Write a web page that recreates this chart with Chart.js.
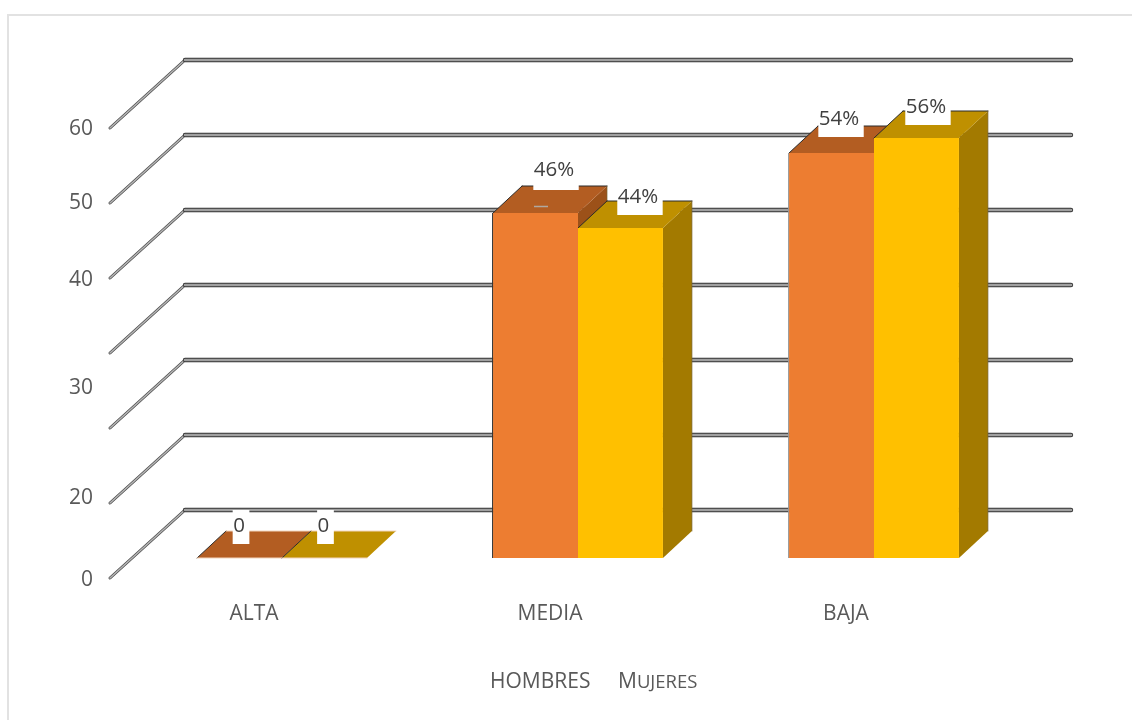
<!DOCTYPE html>
<html>
<head>
<meta charset="utf-8">
<script src="https://cdn.jsdelivr.net/npm/chart.js@4"></script>
<style>
  html, body { margin: 0; padding: 0; background: #fff; overflow: hidden; }
  #frame { position: absolute; left: 7px; top: 14px; right: 0; bottom: 0; border-left: 2px solid #e2e2e2; border-top: 2px solid #e2e2e2; }
  #chart { position: absolute; left: 0; top: 0; }
</style>
</head>
<body>
<div id="frame"></div>
<canvas id="chart" width="1132" height="720"></canvas>
<script>
const categories = ["ALTA", "MEDIA", "BAJA"];
const seriesNames = ["HOMBRES", "MUJERES"];
const hombres = [0, 46, 54];
const mujeres = [0, 44, 56];
const hombresLabels = ["0", "46%", "54%"];
const mujeresLabels = ["0", "44%", "56%"];
const gridValues = [0, 10, 20, 30, 40, 50, 60];
const yTickLabels = ["0", "20", "30", "40", "50", "60"];
// the source picture has these labels unevenly spaced, so they sit at these axis values
const yTickSpots = [-2.9, 8, 22.6, 37.1, 47.3, 57.2];

const TEXT = "#595959";
const FONT = '"Open Sans", sans-serif';
const DEPTH = { x: 29, y: -27 };
const WALL_FRONT = { x: -24, y: 20 };
const WALL_BACK = { x: 51, y: -48 };

// [dx from bar centre, dy from bar top, text lift] of each white label box, per dataset
const labelNudges = [
  [[1.5, -14, 18], [20.5, -23, 20], [9.5, -16, 18]],
  [[1, -14, 18], [19.5, -13, 18], [11.5, -13, 18]]
];
const faceColors = [
  { top: "#B35D22", side: "#9C5119" },
  { top: "#BF9000", side: "#A37A00" }
];

function poly(ctx, pts, fill) {
  ctx.beginPath();
  pts.forEach((p, i) => i ? ctx.lineTo(p[0], p[1]) : ctx.moveTo(p[0], p[1]));
  ctx.closePath();
  ctx.fillStyle = fill;
  ctx.fill();
}

function seg(ctx, x1, y1, x2, y2, color, width) {
  ctx.beginPath();
  ctx.moveTo(x1, y1);
  ctx.lineTo(x2, y2);
  ctx.strokeStyle = color;
  ctx.lineWidth = width;
  ctx.stroke();
}

const wallPlugin = {
  id: "wall",
  beforeDatasetsDraw(chart) {
    const { ctx, scales: { y }, chartArea: a } = chart;
    ctx.save();
    ctx.lineCap = "round";
    gridValues.forEach(v => {
      const py = y.getPixelForValue(v);
      const fx = a.left + WALL_FRONT.x, fy = py + WALL_FRONT.y;
      const bx = a.left + WALL_BACK.x, by = py + WALL_BACK.y;
      const ex = a.right + WALL_BACK.x - 2;
      seg(ctx, fx, fy, bx, by, "#4a4a4a", 3);
      seg(ctx, fx, fy, bx, by, "#b5b5b5", 1.6);
      seg(ctx, bx, by, ex, by, "#333", 4.4);
      seg(ctx, bx, by, ex, by, "#a0a0a0", 2.6);
    });
    // depth faces of the bars, read from the bar elements
    chart.data.datasets.forEach((ds, d) => {
      chart.getDatasetMeta(d).data.forEach(bar => {
        const half = bar.width / 2;
        const l = bar.x - half, r = bar.x + half, t = bar.y, b = bar.base;
        const c = faceColors[d];
        const flat = b - t <= 1;
        if (!flat) {
          poly(ctx, [[r, t], [r + DEPTH.x, t + DEPTH.y], [r + DEPTH.x, b + DEPTH.y], [r, b]], c.side);
          seg(ctx, r + DEPTH.x, t + DEPTH.y, r + DEPTH.x, b + DEPTH.y, "rgba(120,100,50,.7)", 1);
        }
        poly(ctx, [[l, t], [l + DEPTH.x, t + DEPTH.y], [r + DEPTH.x, t + DEPTH.y], [r, t]], c.top);
        seg(ctx, l, t, l + DEPTH.x, t + DEPTH.y, "#2b2b2b", 1);
        seg(ctx, l + DEPTH.x, t + DEPTH.y, r + DEPTH.x, t + DEPTH.y, flat ? "#F2D5BC" : "#2b2b2b", 1);
        if (flat) {
          seg(ctx, l, t, r, t, "#F2D5BC", 1);
        }
      });
    });
    ctx.restore();
  },
  afterDatasetsDraw(chart) {
    const { ctx } = chart;
    ctx.save();
    // left edge of the taller bars
    chart.getDatasetMeta(0).data.forEach((bar, i) => {
      if (bar.base - bar.y > 1) {
        const x = bar.x - bar.width / 2 - 0.5;
        seg(ctx, x, bar.y, x, bar.base, i === 1 ? "#333" : "#999", 1);
      }
    });
    // value labels sit on white boxes
    ctx.font = "20.5px " + FONT;
    ctx.textAlign = "center";
    ctx.textBaseline = "middle";
    [hombresLabels, mujeresLabels].forEach((labels, d) => {
      chart.getDatasetMeta(d).data.forEach((bar, i) => {
        const w = ctx.measureText(labels[i]).width + 5;
        const n = labelNudges[d][i];
        const cx = bar.x + n[0];
        const bottom = bar.y + n[1];
        ctx.fillStyle = "#fff";
        ctx.fillRect(cx - w / 2, bottom - 34, w, 34);
        ctx.fillStyle = "#404040";
        ctx.fillText(labels[i], cx - 2, bottom - n[2]);
      });
    });
    // small leader mark under the 46% label
    const med = chart.getDatasetMeta(0).data[1];
    seg(ctx, med.x - 1.5, med.y - 6.5, med.x + 12.5, med.y - 6.5, "#b0a8a0", 1.5);

    // legend has no keys and the second name is in small caps
    ctx.fillStyle = TEXT;
    ctx.textAlign = "left";
    ctx.textBaseline = "alphabetic";
    ctx.font = "21px " + FONT;
    ctx.fillText(seriesNames[0], 490, 688);
    const second = seriesNames[1];
    ctx.fillText(second[0], 618, 688);
    const capW = ctx.measureText(second[0]).width;
    ctx.font = "18.5px " + FONT;
    ctx.fillText(second.slice(1), 618 + capW, 688);
    ctx.restore();
  }
};

new Chart(document.getElementById("chart"), {
  type: "bar",
  plugins: [wallPlugin],
  data: {
    labels: categories,
    datasets: [
      { label: seriesNames[0], data: hombres, backgroundColor: "#ED7D31" },
      { label: seriesNames[1], data: mujeres, backgroundColor: "#FFC000" }
    ]
  },
  options: {
    responsive: false,
    animation: false,
    layout: { padding: { left: 0, right: 110, top: 58.5, bottom: 82 } },
    datasets: { bar: { categoryPercentage: 0.574, barPercentage: 1 } },
    scales: {
      x: {
        grid: { display: false, drawTicks: false },
        border: { display: false },
        afterFit(s) { s.height = 50; },
        ticks: { color: TEXT, font: { family: FONT, size: 21 }, padding: 13, labelOffset: -28, maxRotation: 0 }
      },
      y: {
        min: -4,
        max: 66.6,
        grid: { display: false, drawTicks: false },
        border: { display: false },
        afterFit(s) { s.width = 134; },
        afterBuildTicks(s) { s.ticks = yTickSpots.map(v => ({ value: v })); },
        ticks: {
          color: TEXT,
          font: { family: FONT, size: 21 },
          padding: 41,
          autoSkip: false,
          callback: (v, i) => yTickLabels[i]
        }
      }
    },
    plugins: {
      tooltip: { enabled: false },
      legend: { display: false }
    }
  }
});
</script>
</body>
</html>
